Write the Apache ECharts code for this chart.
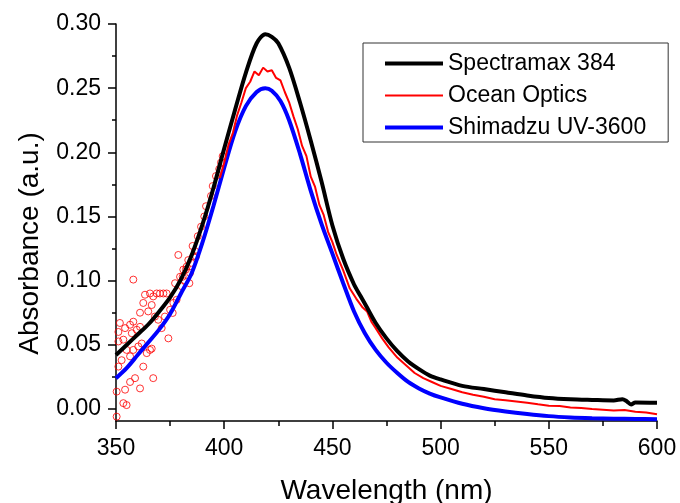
<!DOCTYPE html>
<html>
<head>
<meta charset="utf-8">
<script src="https://cdn.jsdelivr.net/npm/echarts@6/dist/echarts.min.js"></script>
<style>
  html, body { margin: 0; padding: 0; background: #fff; }
  #main { width: 680px; height: 503px; }
</style>
</head>
<body>
<div id="main"></div>
<script>
// Spectramax 384 (black)
const blackWl = [350,355,360,365,370,375,380,385,390,395,400,405,410,415,419,422,425,430,435,440,445,450,455,460,463,466,470,475,480,485,490,495,500,510,520,530,540,550,560,570,580,584,586,588,590,600];
const blackAbs = [0.042,0.050,0.058,0.066,0.076,0.087,0.101,0.120,0.144,0.172,0.203,0.233,0.262,0.285,0.292,0.290,0.285,0.266,0.239,0.209,0.177,0.143,0.117,0.097,0.088,0.079,0.067,0.055,0.045,0.037,0.031,0.026,0.023,0.018,0.0155,0.013,0.0105,0.0085,0.0075,0.007,0.0066,0.0076,0.006,0.0035,0.005,0.0048];

// Shimadzu UV-3600 (blue)
const blueWl = [350,355,360,365,370,375,380,385,390,395,400,405,410,415,419,422,426,430,435,440,445,450,455,460,465,470,475,480,485,490,495,500,510,520,530,540,550,560,570,580,590,600];
const blueAbs = [0.024,0.032,0.042,0.052,0.062,0.074,0.090,0.106,0.130,0.158,0.188,0.216,0.236,0.247,0.250,0.248,0.240,0.225,0.199,0.170,0.144,0.121,0.098,0.076,0.059,0.046,0.036,0.028,0.021,0.016,0.012,0.009,0.004,0.0005,-0.002,-0.004,-0.0056,-0.0066,-0.0072,-0.0076,-0.0078,-0.008];

// Ocean Optics (red line part)
const redWl = [398,400,402,404,406,408,410,412,414,416,418,420,422,424,426,428,430,432,434,436,438,440,442,444,446,448,450,452,455,458,461,464,466,468,470,473,476,480,484,488,492,496,500,505,510,515,520,525,530,535,540,545,550,555,560,565,570,575,580,585,590,595,600];
const redAbs = [0.180,0.192,0.206,0.215,0.229,0.239,0.250,0.255,0.263,0.260,0.266,0.263,0.264,0.258,0.256,0.247,0.239,0.228,0.218,0.205,0.197,0.181,0.173,0.159,0.151,0.138,0.130,0.120,0.108,0.094,0.086,0.079,0.076,0.068,0.063,0.055,0.048,0.040,0.034,0.028,0.024,0.021,0.018,0.0155,0.013,0.011,0.0095,0.0075,0.0068,0.0058,0.0048,0.0036,0.0025,0.0022,0.0012,0.0008,0.0,-0.0006,-0.0012,-0.0008,-0.0022,-0.0028,-0.0042];

// Ocean Optics (noisy open circles, short wavelengths)
const scatterWl = [350.3,350.3,353.4,354.9,354.2,361.1,367.2,358.8,356.5,351.1,351.8,351.1,353.4,351.1,354.2,356.5,358,357.3,359.6,361.1,354.9,356.5,352.6,358,360.3,361.9,362.6,364.2,365.7,366.5,361.1,362.6,363.4,365.7,367.2,368.8,370.3,366.5,364.9,368,369.5,371.9,373.4,358,374.2,371.1,372.6,375,376.5,378,377.3,378.8,379.6,381.1,382.7,380.4,381.9,383.4,384.2,385.7,386.5,385.4,387.8,389.3,390.8,391.6,393.9,394.7,396.2,397.7,398.5,399.3,387,384.7,382.3,380.8,383.9,376.2];
const scatterAbs = [-0.006,0.0135,0.0045,0.003,0.015,0.016,0.024,0.024,0.021,0.033,0.067,0.060,0.054,0.0526,0.063,0.0656,0.068,0.059,0.0617,0.064,0.046,0.041,0.038,0.046,0.0487,0.051,0.033,0.0435,0.046,0.047,0.075,0.0826,0.089,0.090,0.0877,0.090,0.090,0.081,0.076,0.072,0.0695,0.090,0.090,0.1008,0.055,0.063,0.072,0.0773,0.0826,0.085,0.098,0.120,0.103,0.1086,0.111,0.0956,0.0995,0.116,0.106,0.119,0.123,0.127,0.1346,0.142,0.150,0.158,0.166,0.1737,0.1815,0.187,0.192,0.197,0.119,0.1138,0.1086,0.103,0.098,0.0748];

const yMajor = [0, 0.05, 0.10, 0.15, 0.20, 0.25, 0.30];
const yMinor = [0.025, 0.075, 0.125, 0.175, 0.225, 0.275];

function zip(xs, ys) {
  return xs.map((x, i) => [x, ys[i]]);
}

var myChart = echarts.init(document.getElementById('main'));

const font = '"Liberation Sans", Arial, sans-serif';
const noSymbol = { color: 'rgba(0,0,0,0)', borderWidth: 0 };

var option = {
  animation: false,
  backgroundColor: '#fff',
  grid: { left: 116, right: 23, top: 24, bottom: 82, outerBoundsMode: 'none', containLabel: false },
  legend: {
    data: [
      { name: 'Spectramax 384', itemStyle: noSymbol, lineStyle: { color: '#000', width: 4 } },
      { name: 'Ocean Optics', itemStyle: noSymbol, lineStyle: { color: '#ff0000', width: 2 } },
      { name: 'Shimadzu UV-3600', itemStyle: noSymbol, lineStyle: { color: '#0000ff', width: 4 } }
    ],
    orient: 'vertical',
    left: 363,
    top: 43,
    padding: [9, 22, 3, 20],
    itemWidth: 58,
    itemHeight: 14,
    itemGap: 9,
    borderColor: '#333',
    borderWidth: 1,
    textStyle: { fontFamily: font, fontSize: 23, color: '#000', lineHeight: 22 }
  },
  xAxis: {
    type: 'value',
    min: 350,
    max: 600,
    interval: 50,
    name: 'Wavelength (nm)',
    nameLocation: 'middle',
    nameGap: 56,
    nameTextStyle: { fontFamily: font, fontSize: 28, color: '#000' },
    axisLine: { onZero: false, lineStyle: { color: '#000', width: 1.5 } },
    axisTick: { inside: false, length: 8, lineStyle: { color: '#000', width: 1.5 } },
    minorTick: { show: true, splitNumber: 2, length: 5, lineStyle: { color: '#000', width: 1.5 } },
    splitLine: { show: false },
    axisLabel: { fontFamily: font, fontSize: 23, color: '#000', margin: 16 }
  },
  yAxis: [
    {
      type: 'value',
      min: -0.0094,
      max: 0.30,
      name: 'Absorbance (a.u.)',
      nameLocation: 'middle',
      nameGap: 72,
      nameTextStyle: { fontFamily: font, fontSize: 28, color: '#000', padding: [0, 42, 0, 0] },
      axisLine: { show: true, onZero: false, lineStyle: { color: '#000', width: 1.5 } },
      axisTick: { show: true, length: 8, customValues: yMajor, lineStyle: { color: '#000', width: 1.5 } },
      splitLine: { show: false },
      axisLabel: {
        customValues: yMajor,
        fontFamily: font, fontSize: 23, color: '#000', margin: 15,
        formatter: v => v.toFixed(2)
      }
    },
    {
      type: 'value',
      min: -0.0094,
      max: 0.30,
      position: 'left',
      axisLine: { show: false },
      axisTick: { show: true, length: 4, customValues: yMinor, lineStyle: { color: '#000', width: 1.5 } },
      axisLabel: { show: false },
      splitLine: { show: false }
    }
  ],
  series: [
    {
      name: 'Ocean Optics points',
      type: 'scatter',
      data: zip(scatterWl, scatterAbs),
      symbol: 'circle',
      symbolSize: 7,
      itemStyle: { color: 'rgba(255,255,255,0)', borderColor: '#ff0000', borderWidth: 1 },
      z: 1
    },
    {
      name: 'Shimadzu UV-3600',
      type: 'line',
      data: zip(blueWl, blueAbs),
      symbol: 'none',
      smooth: 0.3,
      lineStyle: { color: '#0000ff', width: 4 },
      itemStyle: { color: '#0000ff' },
      z: 2
    },
    {
      name: 'Ocean Optics',
      type: 'line',
      data: zip(redWl, redAbs),
      symbol: 'none',
      lineStyle: { color: '#ff0000', width: 2 },
      itemStyle: { color: '#ff0000' },
      z: 3
    },
    {
      name: 'Spectramax 384',
      type: 'line',
      data: zip(blackWl, blackAbs),
      symbol: 'none',
      smooth: 0.3,
      lineStyle: { color: '#000', width: 4 },
      itemStyle: { color: '#000' },
      z: 4
    }
  ]
};
myChart.setOption(option);
</script>
</body>
</html>
